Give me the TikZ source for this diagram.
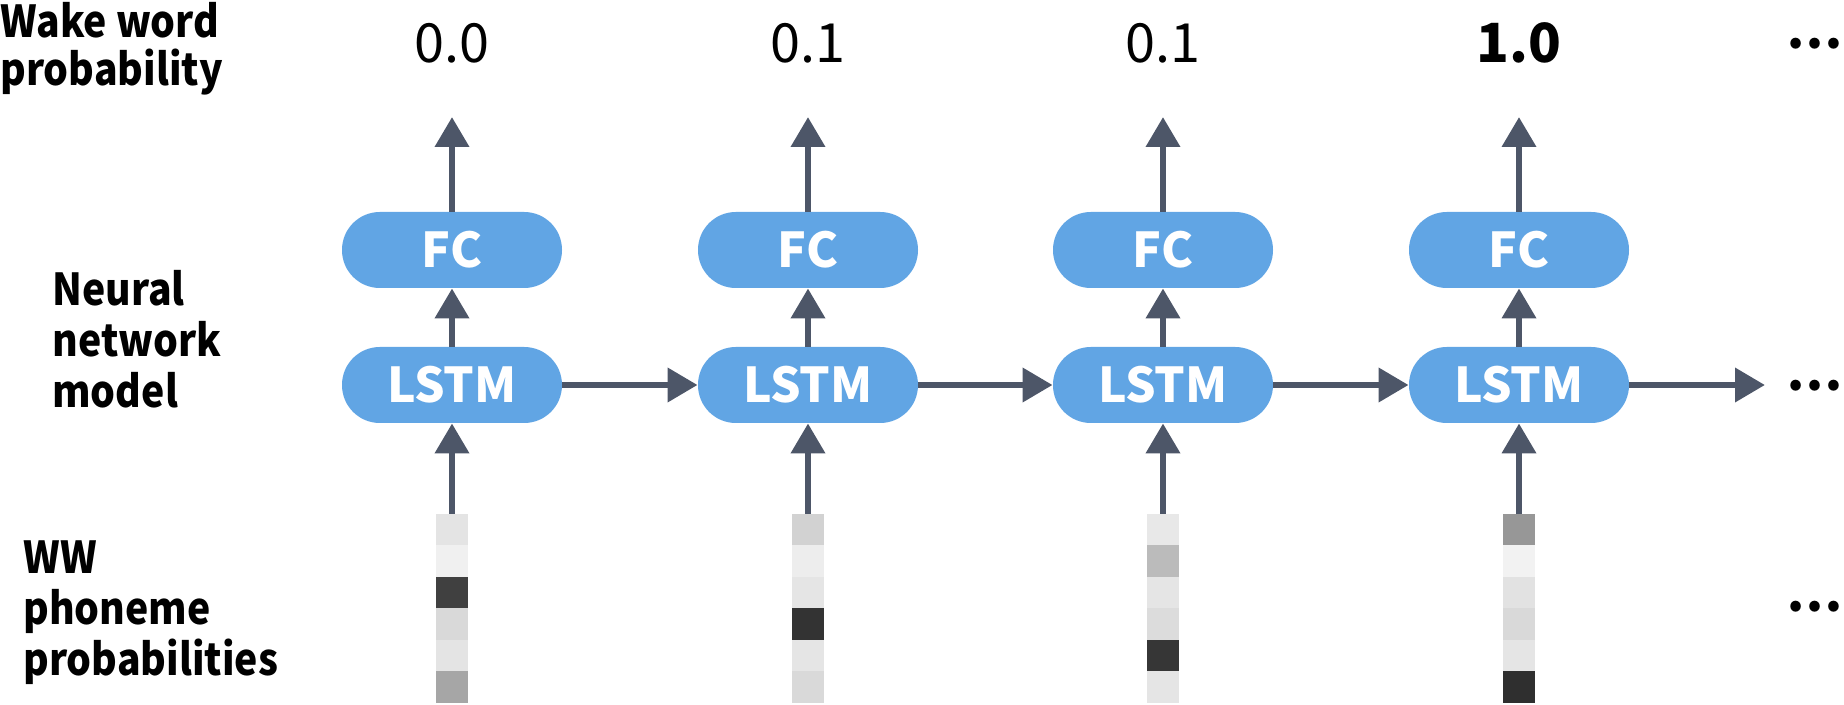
\documentclass[tikz,border=0pt]{standalone}
\usepackage{fontspec}
\newfontfamily\jpf{Noto Sans CJK JP}
\newfontfamily\lblfont{Noto Sans CJK JP}[FakeStretch=0.89]
\usetikzlibrary{arrows.meta}
\definecolor{boxblue}{RGB}{97,165,228}
\definecolor{arrowc}{RGB}{77,86,104}
\tikzset{
  unit/.style={draw=none,fill=boxblue,text=white,font=\jpf\bfseries\fontsize{24pt}{24pt}\selectfont,
    minimum width=110pt,minimum height=38pt,rounded corners=18.9pt,inner sep=0pt},
  conn/.style={draw=arrowc,line width=3.4pt,-{Triangle[length=15pt,width=16.5pt]}},
  prob/.style={font=\jpf\fontsize{27pt}{27pt}\selectfont,anchor=base,inner sep=0pt},
  lbl/.style={font=\lblfont\bfseries\fontsize{22pt}{25.5pt}\selectfont,align=left,anchor=north west,inner sep=0pt},
  dots/.style={font=\jpf\bfseries\fontsize{25pt}{25pt}\selectfont,inner sep=0pt,anchor=east}
}
\begin{document}
\begin{tikzpicture}[x=0.5pt,y=-0.5pt]
\useasboundingbox (0,0) rectangle (1844,705);
% labels
\node[lbl,font=\lblfont\bfseries\fontsize{22pt}{24pt}\selectfont] (lw) at (0,2) {Wake word\\probability};
\node[lbl] (ln) at (52,270) {Neural\\network\\model};
\node[lbl] (lp) at (23,540) {WW\\phoneme\\probabilities};
% probabilities
\node[prob] (p1) at (452,63) {0.0};
\node[prob] (p2) at (808,63) {0.1};
\node[prob] (p3) at (1163,63) {0.1};
\node[prob,font=\jpf\bfseries\fontsize{27pt}{27pt}\selectfont] (p4) at (1519,63) {1.0};
% columns
\foreach \i/\x in {1/452,2/808,3/1163,4/1519}{
  \node[unit] (fc\i) at (\x,250) {FC};
  \node[unit] (ls\i) at (\x,385) {LSTM};
  \coordinate (top\i) at (\x,117);
  \coordinate (bar\i) at (\x,514);
  \draw[conn] (fc\i.north) -- (top\i);
  \draw[conn] (ls\i.north) -- (fc\i.south);
  \draw[conn] (bar\i) -- (ls\i.south);
}
\coordinate (end) at (1765,385);
\draw[conn] (ls1.east) -- (ls2.west);
\draw[conn] (ls2.east) -- (ls3.west);
\draw[conn] (ls3.east) -- (ls4.west);
\draw[conn] (ls4.east) -- (end);
% phoneme bars
\def\cellh{31.5}
\foreach \x/\cols in {452/{E4E4E4,F0F0F0,404040,D9D9D9,E4E4E4,A6A6A6},
                      808/{D2D2D2,EDEDED,E5E5E5,333333,E5E5E5,D9D9D9},
                      1163/{E8E8E8,BBBBBB,E5E5E5,DCDCDC,363636,E5E5E5},
                      1519/{979797,F2F2F2,E2E2E2,D9D9D9,E5E5E5,2F2F2F}}{
  \foreach \c [count=\k from 0] in \cols {
    \definecolor{cellc}{HTML}{\c}
    \fill[cellc] (\x-16,514+\k*\cellh) rectangle (\x+16,514+\k*\cellh+\cellh);
  }
}
% ellipses
\node[dots] (d1) at (1843,44) {…};
\node[dots] (d2) at (1843,386) {…};
\node[dots] (d3) at (1843,607) {…};
\end{tikzpicture}
\end{document}
